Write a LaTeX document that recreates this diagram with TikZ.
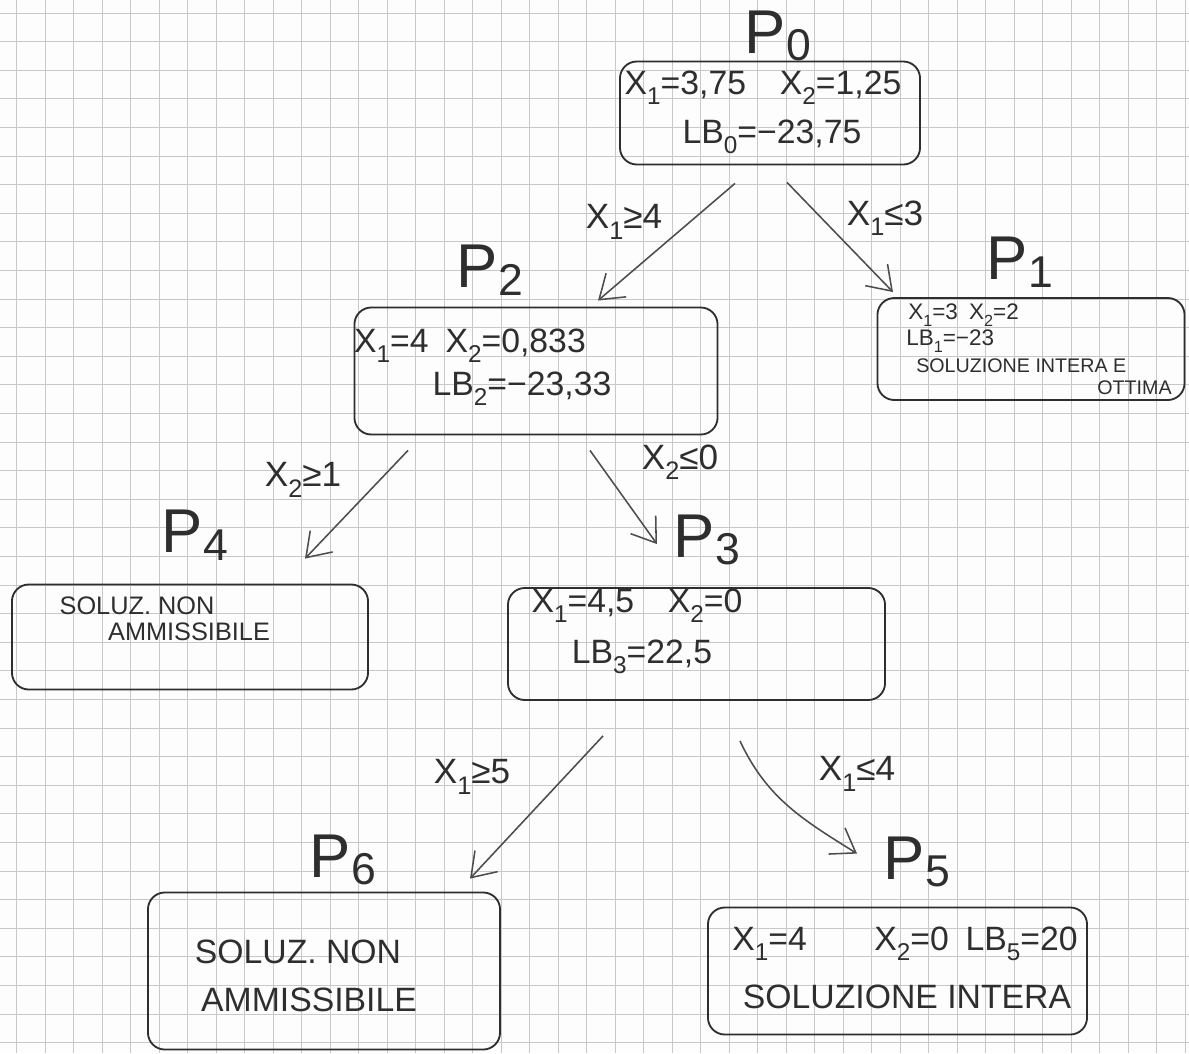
\documentclass[tikz,border=0pt]{standalone}
\usepackage{fontspec}
\usepackage{graphicx}
\setmainfont{Liberation Sans}
\usetikzlibrary{arrows.meta,calc}

% lowered index, e.g. X_1, LB_0
\newcommand\lowidx[1]{\raisebox{-0.3em}{\scalebox{0.72}{#1}}}
\newcommand\xv[1]{X\lowidx{#1}}
% index of a problem title, P_k
\newcommand\pidx[1]{\raisebox{-0.12em}{\scalebox{0.72}{#1}}}

\definecolor{ink}{HTML}{2E2E2E}
\definecolor{paper}{HTML}{FDFDFD}
\definecolor{gridc}{HTML}{C8C8C8}

\tikzset{
  probbox/.style={draw=ink, line width=1.3pt, rounded corners=12pt, inner sep=0pt},
  ptitle/.style={text=ink, font=\fontsize{44}{44}\selectfont, inner sep=0pt},
  boxtxt/.style={text=ink, font=\fontsize{24}{28}\selectfont, inner sep=0pt},
  smalltxt/.style={text=ink, font=\fontsize{14}{16}\selectfont, inner sep=0pt},
  p1txt/.style={text=ink, font=\fontsize{16}{18}\selectfont, inner sep=0pt},
  midtxt/.style={text=ink, font=\fontsize{18}{20}\selectfont, inner sep=0pt},
  cutlbl/.style={text=ink, font=\fontsize{25}{28}\selectfont, inner sep=0pt},
  branch/.style={draw=ink!85, line width=1.1pt, -{Straight Barb[length=16pt,width=22pt,line width=1.1pt]}},
}

\begin{document}
\begin{tikzpicture}[x=0.025cm, y=-0.025cm]
  % squared paper
  \fill[paper] (0,0) rectangle (1189,1053);
  \useasboundingbox (0,0) rectangle (1189,1053);
  \foreach \i in {0,...,41} {
    \draw[gridc, line width=0.5pt] ({16.5+28.5*\i},0) -- ({16.5+28.5*\i},1053);
  }
  \foreach \j in {0,...,37} {
    \draw[gridc, line width=0.5pt] (0,{13+28.6*\j}) -- (1189,{13+28.6*\j});
  }

  % ---- problem P0 ----
  \node[ptitle] (t0) at (778,36) {P\pidx{0}};
  \node[probbox, minimum width=7.5cm, minimum height=2.575cm] (p0) at (770,113) {};
  \node[boxtxt] (p0a) at (763,88) {\xv{1}=3,75\quad \xv{2}=1,25};
  \node[boxtxt] (p0b) at (772,137) {LB\lowidx{0}=−23,75};

  % ---- problem P1 ----
  \node[ptitle] (t1) at (1020,262) {P\pidx{1}};
  \node[probbox, minimum width=7.675cm, minimum height=2.55cm] (p1) at (1031,349) {};
  \node[p1txt, anchor=west] (p1a) at (908,315) {\xv{1}=3\enspace \xv{2}=2};
  \node[p1txt, anchor=west] (p1b) at (906,341) {LB\lowidx{1}=−23};
  \node[smalltxt, anchor=west] (p1c) at (916,366) {SOLUZIONE INTERA E};
  \node[smalltxt, anchor=east] (p1d) at (1172,388) {OTTIMA};

  % ---- problem P2 ----
  \node[ptitle] (t2) at (490,270) {P\pidx{2}};
  \node[probbox, minimum width=9.075cm, minimum height=3.175cm] (p2) at (536,371) {};
  \node[boxtxt] (p2a) at (470,346) {\xv{1}=4\enspace \xv{2}=0,833};
  \node[boxtxt] (p2b) at (522,389) {LB\lowidx{2}=−23,33};

  % ---- problem P4 ----
  \node[ptitle] (t4) at (195,535) {P\pidx{4}};
  \node[probbox, minimum width=8.9cm, minimum height=2.625cm] (p4) at (190,637) {};
  \node[midtxt] (p4a) at (137,606) {SOLUZ. NON};
  \node[midtxt] (p4b) at (189,632) {AMMISSIBILE};

  % ---- problem P3 ----
  \node[ptitle] (t3) at (707,540) {P\pidx{3}};
  \node[probbox, minimum width=9.425cm, minimum height=2.8cm] (p3) at (696.5,644) {};
  \node[boxtxt] (p3a) at (637,606) {\xv{1}=4,5\quad \xv{2}=0};
  \node[boxtxt] (p3b) at (642,657) {LB\lowidx{3}=22,5};

  % ---- problem P6 ----
  \node[ptitle] (t6) at (343,860) {P\pidx{6}};
  \node[probbox, minimum width=8.8cm, minimum height=3.925cm] (p6) at (324,971) {};
  \node[boxtxt] (p6a) at (298,952) {SOLUZ. NON};
  \node[boxtxt] (p6b) at (309,1000) {AMMISSIBILE};

  % ---- problem P5 ----
  \node[ptitle] (t5) at (917,862) {P\pidx{5}};
  \node[probbox, minimum width=9.475cm, minimum height=3.175cm] (p5) at (897.5,971) {};
  \node[boxtxt] (p5a) at (905,944) {\xv{1}=4\qquad \xv{2}=0\enspace LB\lowidx{5}=20};
  \node[boxtxt] (p5b) at (907,997) {SOLUZIONE INTERA};

  % ---- branching ----
  \draw[branch] ([shift={(-35,18)}]p0.south) -- ([shift={(62,-6)}]p2.north);
  \draw[branch] ([shift={(17,17)}]p0.south) -- ([shift={(-138,-5)}]p1.north);
  \draw[branch] ([shift={(-128,15)}]p2.south) -- ([shift={(115,-25)}]p4.north);
  \draw[branch] ([shift={(54,15)}]p2.south) -- ([shift={(-39.5,-43)}]p3.north);
  \draw[branch] ([shift={(-93.5,35)}]p3.south) -- ([shift={(146,-13)}]p6.north);
  \draw[branch] ([shift={(43.5,40)}]p3.south) to[out=-65, in=148] ([shift={(-40.5,-53)}]p5.north);

  % ---- branching constraints ----
  \node[cutlbl] (c02) at (624,222) {\xv{1}≥4};
  \node[cutlbl] (c01) at (885,218) {\xv{1}≤3};
  \node[cutlbl] (c24) at (303,480) {\xv{2}≥1};
  \node[cutlbl] (c23) at (680,462) {\xv{2}≤0};
  \node[cutlbl] (c36) at (472,777) {\xv{1}≥5};
  \node[cutlbl] (c35) at (857,774) {\xv{1}≤4};
\end{tikzpicture}
\end{document}
